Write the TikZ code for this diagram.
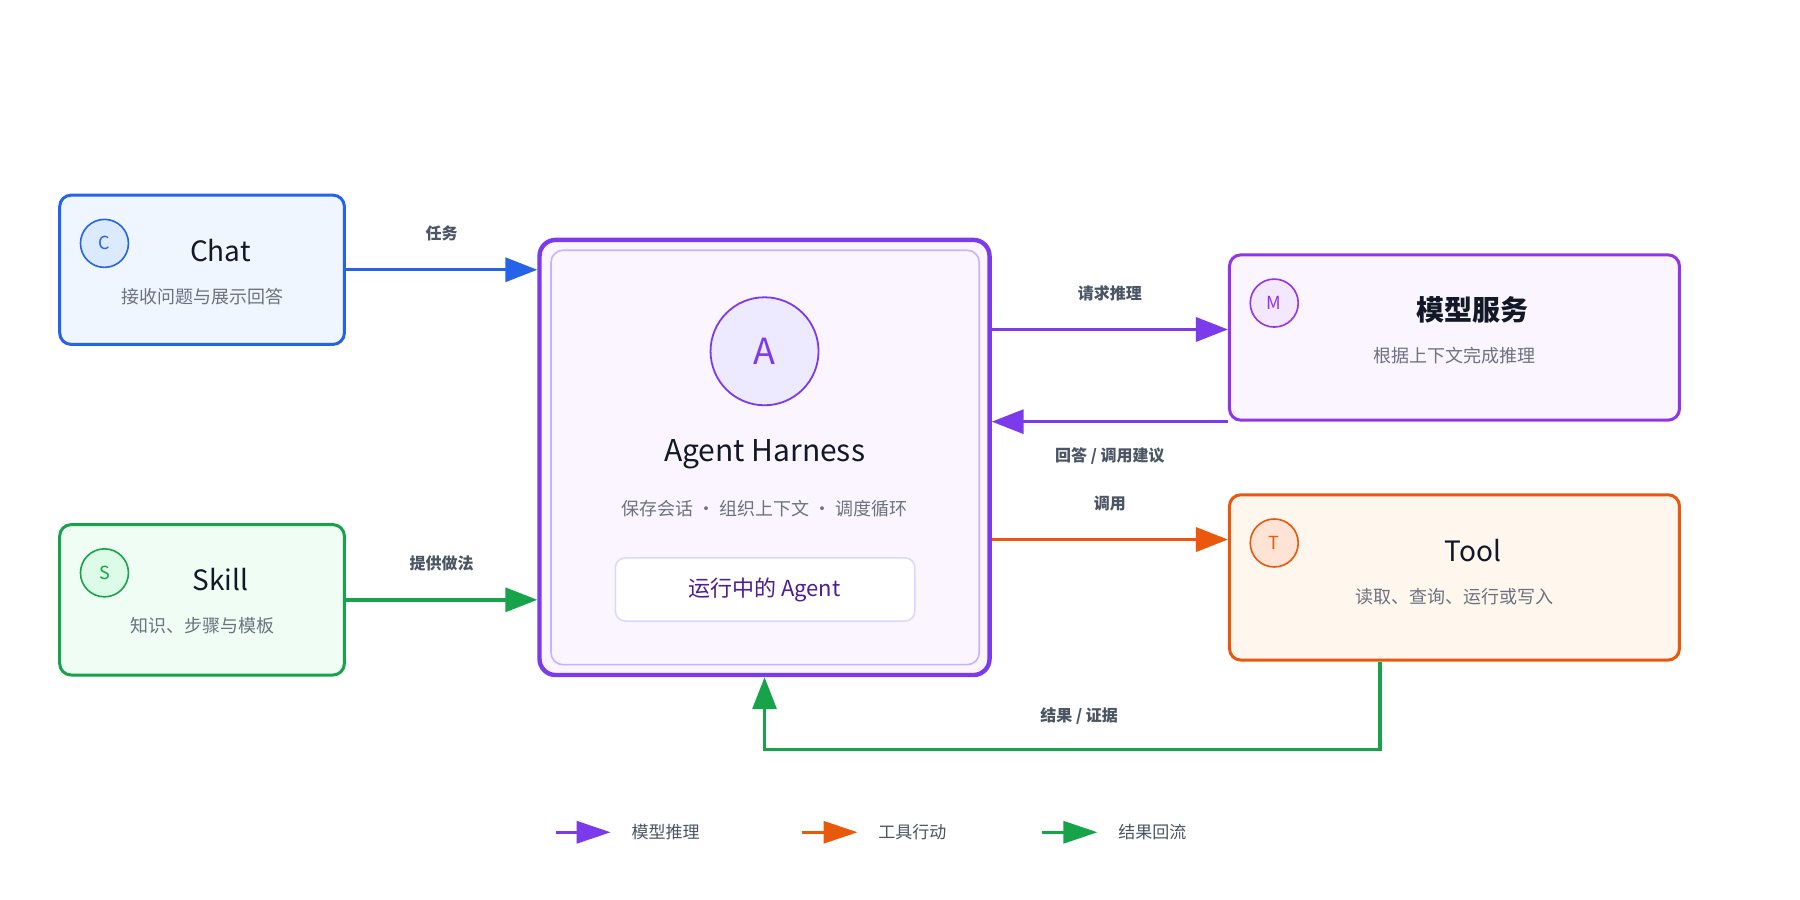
\documentclass[tikz,border=0pt]{standalone}
\usepackage{fontspec}
\setmainfont{Noto Sans CJK SC}
\usetikzlibrary{arrows.meta,fit}
\definecolor{blu}{HTML}{2563EB}\definecolor{blufill}{HTML}{EFF6FF}\definecolor{blucirc}{HTML}{DBEAFE}
\definecolor{grn}{HTML}{16A34A}\definecolor{grnfill}{HTML}{F0FDF4}\definecolor{grncirc}{HTML}{DCFCE7}
\definecolor{pur}{HTML}{7C3AED}\definecolor{purfill}{HTML}{FAF5FF}\definecolor{purcirc}{HTML}{EDE9FE}
\definecolor{mag}{HTML}{9333EA}\definecolor{magcirc}{HTML}{F3E8FF}
\definecolor{org}{HTML}{EA580C}\definecolor{orgfill}{HTML}{FFF7ED}\definecolor{orgcirc}{HTML}{FFE4D6}
\definecolor{inner}{HTML}{C4B5FD}\definecolor{inner2}{HTML}{DDD6FE}
\definecolor{ttl}{HTML}{111827}\definecolor{sub}{HTML}{6B7280}\definecolor{lbl}{HTML}{4B5563}
\definecolor{runtxt}{HTML}{4C1D95}
\begin{document}
\begin{tikzpicture}[x=0.574pt,y=-0.574pt,
 box/.style={inner sep=0pt,rounded corners=5.7pt,line width=1.5pt},
 circ/.style={circle,minimum size=24pt,inner sep=0pt,line width=0.8pt,font=\fontsize{9}{10}\selectfont},
 title/.style={text=ttl,font=\fontsize{14}{16}\selectfont},
 subt/.style={text=sub,font=\fontsize{9}{11}\selectfont},
 lab/.style={text=lbl,font=\fontsize{8}{10}\selectfont\bfseries},
 arr/.style={line width=1.7pt,-{Triangle[length=16pt,width=12pt]}},
 leg/.style={line width=1.5pt,-{Triangle[length=17pt,width=11pt]}},
 legt/.style={text=lbl,font=\fontsize{8.5}{10}\selectfont,anchor=west}]
\useasboundingbox[fill=white] (0,0) rectangle (1568,784);
% Chat
\node[box,fit={(52,170) (300,300)},draw=blu,fill=blufill] (chat) {};
\node[circ,draw=blu,fill=blucirc,text=blu] (cc) at (91,212) {C};
\node[title] (chatt) at (192,218) {Chat};
\node[subt] (chats) at (176,258) {接收问题与展示回答};
% Skill
\node[box,fit={(52,457) (300,588)},draw=grn,fill=grnfill] (skill) {};
\node[circ,draw=grn,fill=grncirc,text=grn] (sc) at (91,499) {S};
\node[title] (skillt) at (192,505) {Skill};
\node[subt] (skills) at (176,545) {知识、步骤与模板};
% Harness
\node[box,fit={(470,209) (862,588)},draw=pur,fill=purfill,line width=2.2pt,rounded corners=8pt] (har) {};
\node[fit={(480,218) (853,579)},inner sep=0pt,draw=inner,line width=0.8pt,rounded corners=6pt] (hin) {};
\node[circle,minimum size=54pt,inner sep=0pt,draw=pur,fill=purcirc,line width=0.9pt,text=pur,font=\fontsize{18}{20}\selectfont] (ac) at (666,306) {A};
\node[text=ttl,font=\fontsize{15}{17}\selectfont] (hart) at (666,396) {Agent Harness};
\node[subt] (hars) at (666,443) {保存会话 · 组织上下文 · 调度循环};
\node[fit={(536,486) (797,541)},inner sep=0pt,draw=inner2,fill=white,line width=0.8pt,rounded corners=5pt] (run) {};
\node[text=runtxt,font=\fontsize{11}{13}\selectfont] (runt) at (666,514) {运行中的 Agent};
% Model
\node[box,fit={(1071,222) (1463,366)},draw=mag,fill=purfill] (model) {};
\node[circ,draw=mag,fill=magcirc,text=mag] (mc) at (1110,264) {M};
\node[title,font=\fontsize{14}{16}\selectfont\bfseries] (modelt) at (1283,270) {模型服务};
\node[subt] (models) at (1267,310) {根据上下文完成推理};
% Tool
\node[box,fit={(1071,431) (1463,575)},draw=org,fill=orgfill] (tool) {};
\node[circ,draw=org,fill=orgcirc,text=org] (tc) at (1110,473) {T};
\node[title] (toolt) at (1283,480) {Tool};
\node[subt] (tools) at (1267,520) {读取、查询、运行或写入};
% connectors
\draw[arr,blu] (chat.east) -- (chat.east -| har.west) node[lab,midway,above=10pt] {任务};
\draw[arr,grn] (skill.east) -- (skill.east -| har.west) node[lab,midway,above=10pt] {提供做法};
\draw[arr,pur] (har.east |- 0,287) -- (model.west |- 0,287) node[lab,midway,above=10pt] {请求推理};
\draw[arr,pur] (model.south west) -- (model.south west -| har.east) node[lab,midway,below=9pt] {回答 / 调用建议};
\draw[arr,org] (har.east |- 0,470) -- (tool.west |- 0,470) node[lab,midway,above=10pt] {调用};
\coordinate (tb) at (1202,653);
\draw[arr,grn] (tool.south -| tb) -- (tb) -- (tb -| har.south) -- (har.south);
\node[lab] (resl) at (940,624) {结果 / 证据};
% legend
\coordinate (l1a) at (484,725); \coordinate (l1b) at (532,725);
\coordinate (l2a) at (699,725); \coordinate (l2b) at (747,725);
\coordinate (l3a) at (908,725); \coordinate (l3b) at (956,725);
\draw[leg,pur] (l1a) -- (l1b);
\draw[leg,org] (l2a) -- (l2b);
\draw[leg,grn] (l3a) -- (l3b);
\node[legt] (lt1) at (544,725) {模型推理};
\node[legt] (lt2) at (759,725) {工具行动};
\node[legt] (lt3) at (968,725) {结果回流};
\end{tikzpicture}
\end{document}
